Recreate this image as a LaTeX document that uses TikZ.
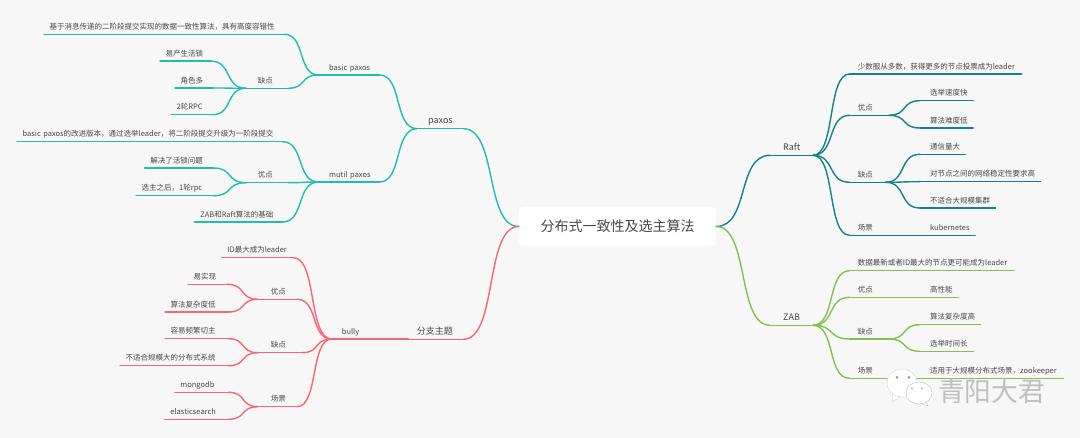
\documentclass[tikz,border=0pt]{standalone}
\usepackage{xcolor}
\usepackage{fontspec}
\setmainfont{Noto Sans CJK SC}
\usepackage{tikz}
\usetikzlibrary{calc}
\definecolor{bgc}{RGB}{247,247,247}
\definecolor{textc}{RGB}{72,72,76}
\definecolor{paxosc}{RGB}{32,190,175}
\definecolor{raftc}{RGB}{20,130,135}
\definecolor{zabc}{RGB}{133,192,78}
\definecolor{bullyc}{RGB}{251,100,115}
\tikzset{
    topic/.style={anchor=south west, inner sep=0pt, align=left, text=textc, font=\fontsize{7.5}{8}\selectfont,
        text height=6.5pt, text depth=1.5pt, inner ysep=3pt},
    bigtopic/.style={topic, font=\fontsize{9}{10}\selectfont, inner ysep=3.5pt},
    rootbox/.style={fill=white, rounded corners=4pt, inner sep=0pt, text=textc, font=\fontsize{14}{16}\selectfont,
        minimum width=197pt, minimum height=39pt},
    link/.style={line width=1.4pt, line cap=round},
    mindcurve/.style={to path={let \p1=(\tikztostart), \p2=(\tikztotarget) in
        .. controls ({\x1+0.62*(\x2-\x1)},\y1) and ({\x1+0.38*(\x2-\x1)},\y2) .. (\tikztotarget)}},
}
\begin{document}
\begin{tikzpicture}[x=1pt, y=-1pt]
\useasboundingbox (0,0) rectangle (1080,438);
\fill[bgc] (0,0) rectangle (1080,438);

% Root
\node[rootbox] (root) at (617.5,226.5) {分布式一致性及选主算法};

% paxos: name/x start/x end/y/text offset/label
\node[bigtopic, text width=46pt] (paxos) at (417,128.7) {\hspace*{11pt}paxos};
\draw[link, paxosc] (paxos.south west) -- (paxos.south east);
\foreach \n/\xa/\xb/\y/\sep/\lab in {
    basicpaxos/318.5/379/75/10.5/basic paxos,
    mutilpaxos/318.5/379/182/10.5/mutil paxos,
    basicdef/44/284/34.3/5.5/基于消息传递的二阶段提交实现的数据一致性算法，具有高度容错性,
    basiccons/246/287.5/88.3/11.6/缺点,
    livelock/160/210/61/5.5/易产生活锁,
    roles/175/213/88/5.5/角色多,
    tworpc/171/212/114.7/5.5/2轮RPC,
    mutildef/17/282/141.7/5.5/basic paxos的改进版本，通过选举leader，将二阶段提交升级为一阶段提交,
    mutilpros/246/288/182.7/11.6/优点,
    solved/144.6/213/168/5.5/解决了活锁问题,
    onerpc/136/213/195.7/5.5/选主之后，1轮rpc,
    zabbase/194.6/282/222/5.5/ZAB和Raft算法的基础%
} {
    \pgfmathsetmacro{\w}{\xb-\xa}
    \node[topic, text width=\w pt] (\n) at (\xa,\y) {\hspace*{\sep pt}\lab};
    \draw[link, paxosc] (\n.south west) -- (\n.south east);
}
\draw[link, paxosc] (root.west) to[mindcurve] (paxos.south east);
\foreach \a/\b in {paxos/basicpaxos, paxos/mutilpaxos, basicpaxos/basicdef, basicpaxos/basiccons,
    basiccons/livelock, basiccons/roles, basiccons/tworpc, mutilpaxos/mutildef, mutilpaxos/mutilpros,
    mutilpros/solved, mutilpros/onerpc, mutilpaxos/zabbase} {
    \draw[link, paxosc] (\a.south west) to[mindcurve] (\b.south east);
}

% bully
\foreach \n/\xa/\xb/\y/\sep/\lab in {
    bully/331.7/408/339/10/bully,
    idmax/221.7/293/257.7/5.5/ID最大成为leader,
    bullypros/258/296.7/299.3/12.7/优点,
    easy/188/226.7/284.3/5.5/易实现,
    lowcost/165/228/312/5.5/算法复杂度低,
    bullycons/258/301.7/352.7/12.7/缺点,
    switching/165/228/338.7/5.5/容易频繁切主,
    nolarge/120/228/365.7/5.5/不适合规模大的分布式系统,
    bullyuse/258/296.7/406.7/12.7/场景,
    mongodb/174.7/228/392.3/5.5/mongodb,
    elastic/164.7/228/419.3/5.5/elasticsearch%
} {
    \pgfmathsetmacro{\w}{\xb-\xa}
    \node[topic, text width=\w pt] (\n) at (\xa,\y) {\hspace*{\sep pt}\lab};
    \draw[link, bullyc] (\n.south west) -- (\n.south east);
}
\node[bigtopic, text width=55pt] (branch) at (408,339.3) {\hspace*{8.7pt}分支主题};
\draw[link, bullyc] (branch.south west) -- (branch.south east);
\draw[link, bullyc] (root.west) to[mindcurve] (branch.south east);
\draw[link, bullyc] (branch.south west) -- (bully.south east);
\foreach \a/\b in {bully/idmax, bully/bullypros, bully/bullycons, bully/bullyuse, bullypros/easy, bullypros/lowcost,
    bullycons/switching, bullycons/nolarge, bullyuse/mongodb, bullyuse/elastic} {
    \draw[link, bullyc] (\a.south west) to[mindcurve] (\b.south east);
}

% Raft
\node[bigtopic, text width=42.6pt] (raft) at (770,155.3) {\hspace*{13pt}Raft};
\draw[link, raftc] (raft.south west) -- (raft.south east);
\foreach \n/\xa/\xb/\y/\sep/\lab in {
    raftdef/849.6/1021/74/8/少数服从多数，获得更多的节点投票成为leader,
    raftpros/849.6/888.5/115.3/8/优点,
    fastvote/920/972.8/100.7/10/选举速度快,
    lowdiff/920/972.8/128/10/算法难度低,
    raftcons/849.6/885/182.3/8/缺点,
    traffic/920/965/154.3/10/通信量大,
    stable/920/1040/181.7/10/对节点之间的网络稳定性要求高,
    noscale/920/995/208/10/不适合大规模集群,
    raftuse/849.6/885/235.3/8/场景,
    kubernetes/920/974.7/235.3/10/kubernetes%
} {
    \pgfmathsetmacro{\w}{\xb-\xa}
    \node[topic, text width=\w pt] (\n) at (\xa,\y) {\hspace*{\sep pt}\lab};
    \draw[link, raftc] (\n.south west) -- (\n.south east);
}
\draw[link, raftc] (root.east) to[mindcurve] (raft.south west);
\foreach \a/\b in {raft/raftdef, raft/raftpros, raft/raftcons, raft/raftuse, raftpros/fastvote, raftpros/lowdiff,
    raftcons/traffic, raftcons/stable, raftcons/noscale, raftuse/kubernetes} {
    \draw[link, raftc] (\a.south east) to[mindcurve] (\b.south west);
}

% ZAB
\node[bigtopic, text width=42.6pt] (zab) at (770,325.3) {\hspace*{13pt}ZAB};
\draw[link, zabc] (zab.south west) -- (zab.south east);
\foreach \n/\xa/\xb/\y/\sep/\lab in {
    zabdef/849.6/1014/270.7/8/数据最新或者ID最大的节点更可能成为leader,
    zabpros/849.6/885/297.3/8/优点,
    fastperf/920/958/297.3/10/高性能,
    zabcons/849.6/888.5/339/8/缺点,
    highcost/920/980/324.7/10/算法复杂度高,
    longvote/920/972.8/351.3/10/选举时间长,
    zabuse/849.6/885/378.3/8/场景,
    zookeeper/920/1063/378.3/10/适用于大规模分布式场景，zookeeper%
} {
    \pgfmathsetmacro{\w}{\xb-\xa}
    \node[topic, text width=\w pt] (\n) at (\xa,\y) {\hspace*{\sep pt}\lab};
    \draw[link, zabc] (\n.south west) -- (\n.south east);
}
\draw[link, zabc] (root.east) to[mindcurve] (zab.south west);
\foreach \a/\b in {zab/zabdef, zab/zabpros, zab/zabcons, zab/zabuse, zabpros/fastperf, zabcons/highcost,
    zabcons/longvote, zabuse/zookeeper} {
    \draw[link, zabc] (\a.south east) to[mindcurve] (\b.south west);
}

% Watermark
\filldraw[fill=white, draw=gray!35, line width=0.4pt] (893,394) -- (892,402) -- (900,397) -- cycle;
\filldraw[fill=white, draw=gray!35, line width=0.4pt] (902,383) ellipse (15 and 14);
\fill[zabc!70!gray] (897,377.3) circle (1.5) (909,377.3) circle (1.5);
\filldraw[fill=white, draw=gray!50, line width=0.4pt] (925,400) -- (928,406) -- (920,403) -- cycle;
\filldraw[fill=white, draw=gray!50, line width=0.4pt] (919,393) ellipse (13 and 11);
\fill[gray!60] (912,388.5) circle (1.2) (922,388.5) circle (1.2);
\node[anchor=center, inner sep=0pt, text=gray!50, font=\fontsize{26.7}{28}\selectfont] (mark) at (991.5,391) {青阳大君};
\end{tikzpicture}
\end{document}
